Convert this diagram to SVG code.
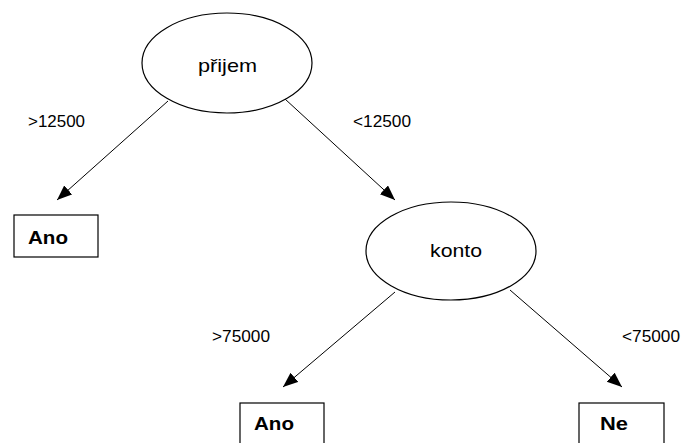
<svg xmlns="http://www.w3.org/2000/svg" width="682" height="443" viewBox="0 0 682 443">
<style>
.node{fill:#fff;stroke:#000;stroke-width:1.2}
.edge{stroke:#000;stroke-width:1;fill:none}
.lbl{font-family:"Liberation Sans",Arial,sans-serif;font-size:16px;fill:#000}
.nt{font-family:"Liberation Sans",Arial,sans-serif;font-size:19px;fill:#000}
.bt{font-family:"Liberation Sans",Arial,sans-serif;font-size:18px;font-weight:bold;fill:#000}
</style>
<defs>
<marker id="ah" markerUnits="userSpaceOnUse" markerWidth="16" markerHeight="14" refX="15" refY="6" orient="auto">
<path d="M0,0 L15,6 L0,12 Z" fill="#000"/>
</marker>
</defs>
<rect width="682" height="443" fill="#fff"/>
<g id="connectors">
<line class="edge" x1="168" y1="101" x2="57" y2="200" marker-end="url(#ah)"/>
<line class="edge" x1="285" y1="99" x2="395" y2="200" marker-end="url(#ah)"/>
<line class="edge" x1="395" y1="292" x2="283" y2="387" marker-end="url(#ah)"/>
<line class="edge" x1="510" y1="290" x2="622" y2="387" marker-end="url(#ah)"/>
<text class="lbl" x="28" y="127" textLength="57" lengthAdjust="spacingAndGlyphs">&gt;12500</text>
<text class="lbl" x="353" y="127" textLength="58" lengthAdjust="spacingAndGlyphs">&lt;12500</text>
<text class="lbl" x="212" y="342" textLength="58" lengthAdjust="spacingAndGlyphs">&gt;75000</text>
<text class="lbl" x="622" y="342" textLength="58" lengthAdjust="spacingAndGlyphs">&lt;75000</text>
</g>
<g id="prijem">
<ellipse class="node" cx="227" cy="63" rx="85" ry="50"/>
<text class="nt" x="198" y="72" textLength="59" lengthAdjust="spacingAndGlyphs">přijem</text>
</g>
<g id="ano1">
<rect class="node" x="14" y="215" width="84" height="42"/>
<text class="bt" x="28" y="244" textLength="40" lengthAdjust="spacingAndGlyphs">Ano</text>
</g>
<g id="konto">
<ellipse class="node" cx="451" cy="251" rx="85" ry="49"/>
<text class="nt" x="430" y="257" textLength="52" lengthAdjust="spacingAndGlyphs">konto</text>
</g>
<g id="ano2">
<rect class="node" x="240" y="403" width="84" height="42"/>
<text class="bt" x="254" y="430" textLength="40" lengthAdjust="spacingAndGlyphs">Ano</text>
</g>
<g id="ne">
<rect class="node" x="579" y="403" width="85" height="42"/>
<text class="bt" x="600" y="430" textLength="28" lengthAdjust="spacingAndGlyphs">Ne</text>
</g>
</svg>
